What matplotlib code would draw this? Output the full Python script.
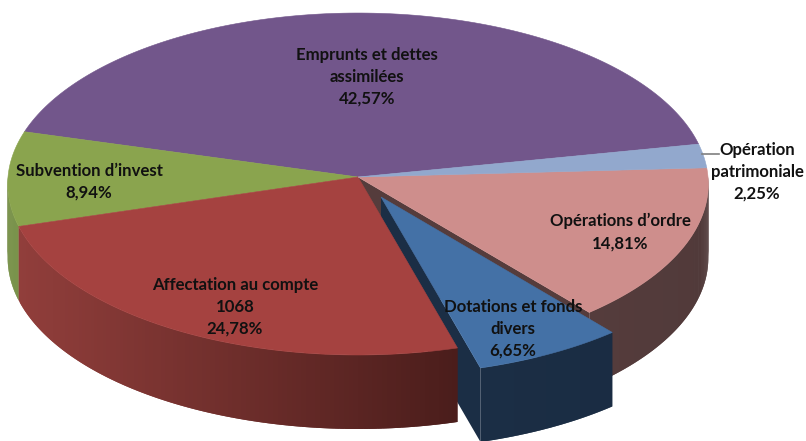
import numpy as np
import matplotlib
matplotlib.use("Agg")
import matplotlib.pyplot as plt
from matplotlib.collections import PolyCollection
from matplotlib.colors import to_rgb

plt.rcParams['font.family'] = ['Lato', 'DejaVu Sans']

# slices, counter-clockwise starting from the right of the pie
names = ["Emprunts et dettes\nassimilées", "Subvention d’invest", "Affectation au compte\n1068",
         "Dotations et fonds\ndivers", "Opérations d’ordre", "Opération\npatrimoniale"]
shares = [42.57, 8.94, 24.78, 6.65, 14.81, 2.25]
top_colors = ['#72568b', '#8aa44e', '#a54240', '#4471a6', '#ce8e8c', '#92a8cd']
# side shading, left to right
side_left = ['#3c2d4c', '#6f8a3c', '#913e3b', '#1b2e45', '#553c3c', '#4c5a70']
side_right = ['#3c2d4c', '#6f8a3c', '#4a1d1b', '#1a2c43', '#513a3a', '#4c5a70']
label_xy = [(367, 77), (89, 182), (235, 307), (513, 329), (620, 232), (757, 172)]

start_angle = 11.2
cx, cy = 358, 177
rx, ry = 350, 170.7
persp = 0.041  # back of the pie is a bit smaller than the front
depth = 74
pull = (23, 20)  # the Dotations slice is pulled out


def rim(t, off=(0, 0)):
    t = np.radians(t)
    w = 1 + persp * np.sin(t)
    return off[0] + cx + rx * np.cos(t) / w, off[1] + cy - ry * np.sin(t) / w


def top_shape(a, b, off=(0, 0)):
    t = np.linspace(a, b, 150)
    x, y = rim(t, off)
    return np.r_[cx + off[0], x], np.r_[cy + off[1], y]


def draw_side(ax, a, b, left, right, off, z):
    # only the part of the rim facing the viewer
    a, b = max(a, 180), min(b, 360)
    if b <= a:
        return
    t = np.linspace(a, b, 120)
    x, y = rim(t, off)
    n = len(t) - 1
    # each strip runs on under the next one so no seams show
    quads = []
    for i in range(n):
        j = min(i + 2, n)
        quads.append([(x[i], y[i]), (x[j], y[j]), (x[j], y[j] + depth), (x[i], y[i] + depth)])
    f = (x[:-1] - x[0]) / (x[-1] - x[0])
    c0, c1 = np.array(to_rgb(left)), np.array(to_rgb(right))
    cols = [tuple(c0 + (c1 - c0) * v) for v in f]
    ax.add_collection(PolyCollection(quads, facecolors=cols, edgecolors='none', zorder=z))


fig = plt.figure(figsize=(8.06, 4.41), dpi=100)
ax = fig.add_axes([0, 0, 1, 1])
ax.set_xlim(0, 806)
ax.set_ylim(441, 0)
ax.axis('off')

edges = start_angle + np.r_[0, np.cumsum(shares)] * 3.6
edges[-1] = start_angle + 360
blue = 3

for i in range(len(shares)):
    a, b = edges[i], edges[i + 1]
    off = pull if i == blue else (0, 0)
    z_side = 5 if i == blue else (1 if i == blue + 1 else 2)
    draw_side(ax, a, b, side_left[i], side_right[i], off, z_side)
    x, y = top_shape(a, b, off)
    ax.fill(x, y, color=top_colors[i], lw=0.4, zorder=7 if i == blue else 3)

# cut faces opened by the pulled slice, they stay behind the red slice
a, b = edges[blue], edges[blue + 1]
xr, yr = rim(b)
ax.fill([cx, xr, xr, cx], [cy, yr, yr + depth, cy + depth], color=side_left[blue + 1], lw=0, zorder=1.2)
xa, ya = rim(a, pull)
ax.fill([cx + pull[0], xa, xa, cx + pull[0]],
        [cy + pull[1], ya, ya + depth, cy + pull[1] + depth], color=side_left[blue], lw=0, zorder=1.5)

for i, (name, share) in enumerate(zip(names, shares)):
    txt = name + "\n" + f"{share:.2f}".replace(".", ",") + "%"
    ax.text(label_xy[i][0], label_xy[i][1], txt, ha='center', va='center', fontsize=12.1,
            fontweight='bold', color='#111111', linespacing=1.45, zorder=10)

# leader line for the small slice
ax.plot([702, 719], [154, 154], color='#7f7f7f', lw=1.2, zorder=9)

fig.savefig("out.png", dpi=100)
